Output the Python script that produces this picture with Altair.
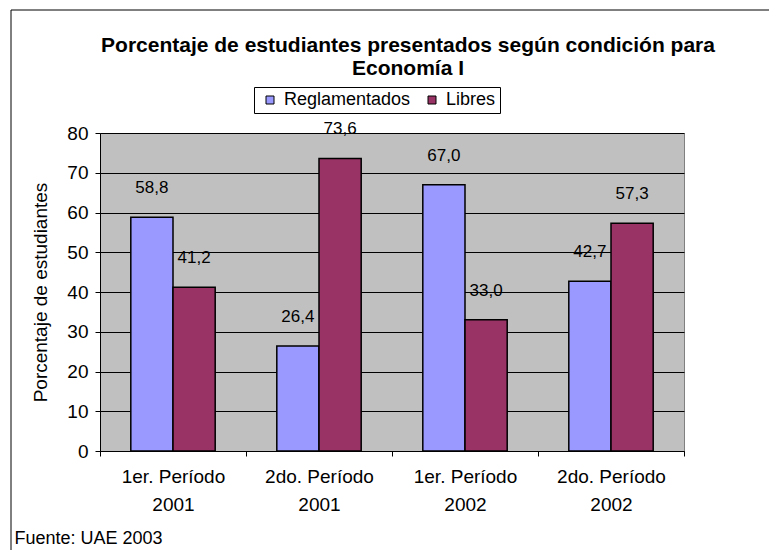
import altair as alt
import pandas as pd

categories = ["1er. Período 2001", "2do. Período 2001", "1er. Período 2002", "2do. Período 2002"]
series = ["Reglamentados", "Libres"]
reglamentados = [58.8, 26.4, 67.0, 42.7]
libres = [41.2, 73.6, 33.0, 57.3]
y_ticks = [0, 10, 20, 30, 40, 50, 60, 70, 80]
title_lines = ["Porcentaje de estudiantes presentados según condición para", "Economía I"]
y_title = "Porcentaje de estudiantes"
source_note = "Fuente: UAE 2003"
colors = ["#9999FF", "#993366"]

rows = []
for i, c in enumerate(categories):
    rows.append({"periodo": c, "condicion": series[0], "valor": reglamentados[i]})
    rows.append({"periodo": c, "condicion": series[1], "valor": libres[i]})
df = pd.DataFrame(rows)

FONT = "Liberation Sans"

x_enc = alt.X(
    "periodo:N", sort=categories,
    scale=alt.Scale(paddingInner=0, paddingOuter=0),
    axis=alt.Axis(
        title=source_note, labelAngle=0,
        labelExpr="[slice(datum.label, 0, -5), slice(datum.label, -4)]",
        labelFont=FONT, labelFontSize=19, labelColor="black", labelLineHeight=28,
        labelPadding=11, tickBand="extent", tickSize=5, tickColor="black",
        domainColor="black", grid=False,
        titleX=-86, titleY=87, titleAlign="left", titleBaseline="middle", titleAngle=0,
        titleFont=FONT, titleFontSize=18, titleFontWeight="normal", titleColor="black",
    ),
)
xoff_enc = alt.XOffset("condicion:N", sort=series,
                       scale=alt.Scale(paddingOuter=0.73, paddingInner=0))
y_enc = alt.Y(
    "valor:Q", scale=alt.Scale(domain=[0, 80], nice=False),
    axis=alt.Axis(
        values=y_ticks, title=y_title, grid=True, gridColor="black", gridWidth=1,
        tickSize=5, tickColor="black", domainColor="black", labelPadding=7,
        labelFont=FONT, labelFontSize=19, labelColor="black", labelOverlap=False,
        titleX=-60, titleY=159, titleAngle=270, titleAlign="center", titleBaseline="middle",
        titleFont=FONT, titleFontSize=19, titleFontWeight="normal", titleColor="black",
    ),
)
color_enc = alt.Color(
    "condicion:N", sort=series,
    scale=alt.Scale(domain=series, range=colors),
    legend=alt.Legend(
        title=None, orient="none", legendX=154, legendY=-46, direction="horizontal",
        strokeColor="black", fillColor="white", padding=4, symbolType="square",
        symbolSize=64, symbolStrokeColor="black", symbolStrokeWidth=1,
        labelFont=FONT, labelFontSize=18, labelColor="black", columnPadding=9,
        labelOffset=5, symbolOffset=3,
    ),
)

frame = alt.Chart(alt.Data(values=[{"k": 1}])).mark_rect(
    filled=False, stroke="black", strokeWidth=1
).encode(x=alt.value(-89), x2=alt.value(900), y=alt.value(-123), y2=alt.value(700))

title = alt.Chart(alt.Data(values=[{"k": 1}])).mark_text(
    text=title_lines, font=FONT, fontSize=21, fontWeight="bold", color="black",
    align="center", baseline="alphabetic", lineHeight=23,
).encode(x=alt.value(308), y=alt.value(-81))

bars = alt.Chart(df).mark_bar(stroke="black", strokeWidth=1.5).encode(
    x=x_enc, xOffset=xoff_enc, y=y_enc, color=color_enc
)

labels = alt.Chart(df).transform_calculate(
    lab="replace(format(datum.valor, '.1f'), '.', ',')"
).mark_text(dy=-29, fontSize=17, font=FONT, color="black", baseline="middle").encode(
    x=x_enc, xOffset=xoff_enc, y=y_enc, text="lab:N"
)

chart = alt.layer(frame, title, bars, labels).properties(
    width=584, height=318,
    padding={"left": 92, "top": 125, "right": 85, "bottom": 99},
    autosize=alt.AutoSizeParams(type="none"),
).configure_view(fill="#C0C0C0", stroke="#808080")

chart.save("out.html", embed_options={"renderer": "svg", "actions": False})
